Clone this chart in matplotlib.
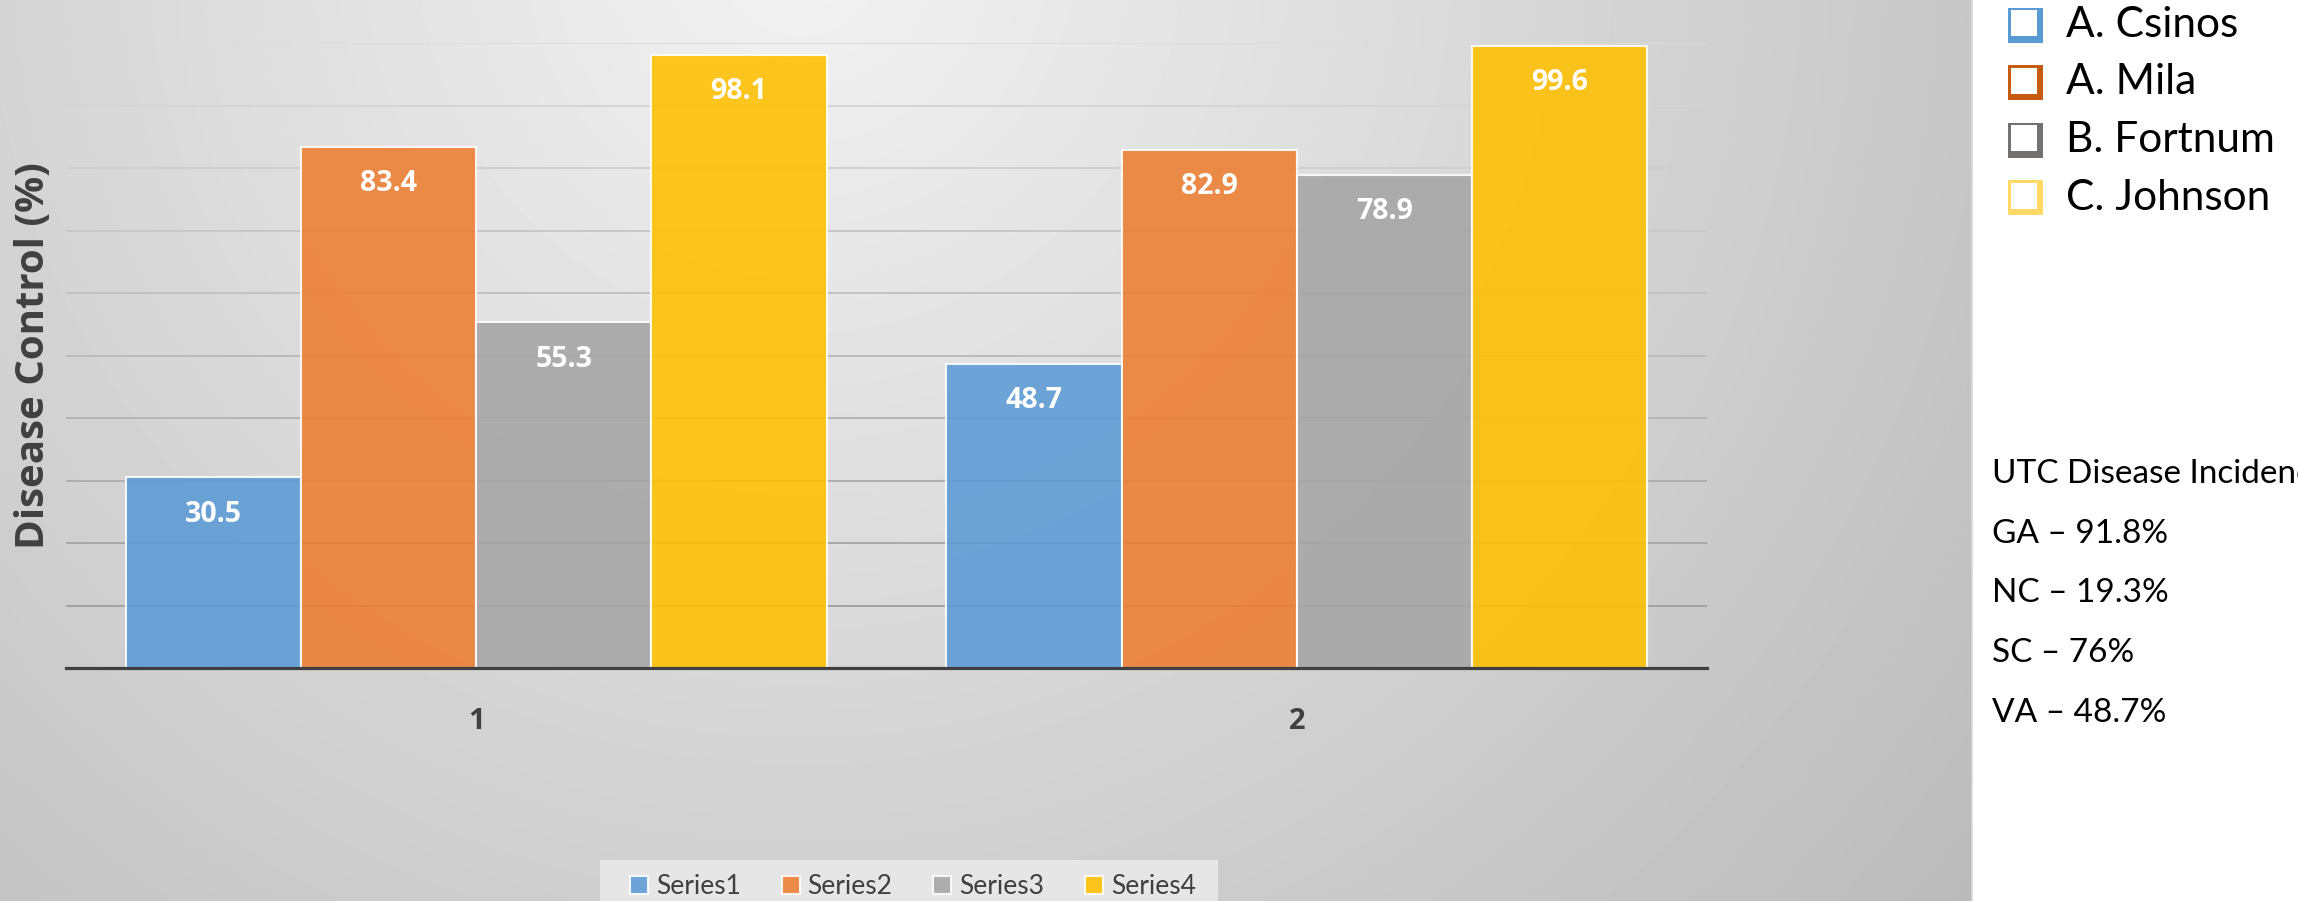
import numpy as np
import matplotlib
matplotlib.use("Agg")
import matplotlib.pyplot as plt
from matplotlib.patches import Rectangle

plt.rcParams['font.family'] = ['Lato', 'DejaVu Sans']
BOLD_FAMILY = ['Open Sans', 'DejaVu Sans']

# ---- data ----
categories = ['1', '2']
series_names = ['Series1', 'Series2', 'Series3', 'Series4']
series1 = [30.5, 48.7]
series2 = [83.4, 82.9]
series3 = [55.3, 78.9]
series4 = [98.1, 99.6]
researchers = ['A. Csinos', 'A. Mila', 'B. Fortnum', 'C. Johnson']
utc_lines = ['UTC Disease Incidence', 'GA \u2013 91.8%', 'NC \u2013 19.3%',
             'SC \u2013 76%', 'VA \u2013 48.7%']

bar_colors = ['#5b9bd5', '#ed7d31', '#a5a5a5', '#ffc000']
key_colors = ['#5b9bd5', '#c55a11', '#767171', '#ffd966']

W, H = 2298, 901
fig = plt.figure(figsize=(W / 100, H / 100), dpi=100)
fig.patch.set_facecolor('white')

# ---- gradient panel behind the chart ----
PW = 1972
bg = fig.add_axes([0, 0, PW / W, 1], zorder=-2)
xx, yy = np.meshgrid(np.arange(PW), np.arange(H))
dist = np.sqrt((xx - 800.0) ** 2 + (yy + 50.0) ** 2)
shade = np.clip(0.95 - 1.45e-4 * dist, 0, 1)
bg.imshow(shade, cmap='gray', vmin=0, vmax=1, aspect='auto',
          extent=(0, PW, H, 0), interpolation='bilinear')
bg.set_axis_off()

# ---- bar chart ----
left, right, top, base = 66, 1707, 43, 668
ax = fig.add_axes([left / W, (H - base) / H, (right - left) / W, (base - top) / H])
ax.set_facecolor('none')

x = np.arange(len(categories))
width = 0.2135
all_series = [series1, series2, series3, series4]
containers = []
for i, (vals, name, col) in enumerate(zip(all_series, series_names, bar_colors)):
    c = ax.bar(x + (i - 1.5) * width, vals, width, color=col, alpha=0.88,
               edgecolor=(1, 1, 1, 0.45), linewidth=1.5, label=name, zorder=3)
    containers.append(c)
    for xi, v in zip(x + (i - 1.5) * width, vals):
        ax.annotate(f'{v:.1f}', (xi, v), xytext=(0, -26.5), textcoords='offset points',
                    ha='center', va='center', color='white', fontsize=20.5,
                    fontweight='bold', family=BOLD_FAMILY, zorder=4)

ax.set_xlim(-0.5, 1.5)
ax.set_ylim(0, 100)
ax.set_yticks(np.arange(0, 101, 10))
ax.set_yticklabels([])
ax.tick_params(axis='y', length=0)
ax.yaxis.grid(True, zorder=1)
for j, gl in enumerate(ax.get_ygridlines()):
    g = 0.86 - 0.025 * (10 - j)
    gl.set_color((g, g, g))
    gl.set_linewidth(1.4)
ax.set_axisbelow(True)

ax.set_xticks(x)
ax.set_xticklabels(categories, fontsize=21, fontweight='bold', color='#404040',
                   family=BOLD_FAMILY)
ax.tick_params(axis='x', length=0, pad=28)

for s in ['left', 'right', 'top']:
    ax.spines[s].set_visible(False)
ax.spines['bottom'].set_color('#404040')
ax.spines['bottom'].set_linewidth(2.3)
ax.spines['bottom'].set_zorder(5)

ax.set_ylabel('Disease Control (%)', fontsize=29, fontweight='bold', color='#404040',
              family=BOLD_FAMILY)
ax.yaxis.set_label_coords((53 - left) / (right - left), 0.5)

# ---- bottom series legend ----
fig.add_artist(Rectangle((600 / W, 0), (1218 - 600) / W, (H - 860) / H,
                         transform=fig.transFigure, facecolor='#e6e6e6',
                         edgecolor='none', zorder=1))
leg = fig.legend(handles=containers, labels=series_names, loc='center left',
                 bbox_to_anchor=(630 / W, 1 - 887 / H), ncol=4, frameon=False,
                 fontsize=19, handlelength=0.68, handleheight=0.68,
                 handletextpad=0.3, columnspacing=1.55, borderpad=0,
                 borderaxespad=0)
for t in leg.get_texts():
    t.set_color('#404040')
leg.set_zorder(2)

# ---- right-hand notes (pixel coordinates) ----
ov = fig.add_axes([0, 0, 1, 1], zorder=3)
ov.set_xlim(0, W)
ov.set_ylim(H, 0)
ov.set_axis_off()
ov.patch.set_alpha(0)

ov.plot([PW, PW], [0, H], color='#d9d9d9', linewidth=1.2)

for i, (name, col) in enumerate(zip(researchers, key_colors)):
    yc = 25 + 57.5 * i
    ov.add_patch(Rectangle((2008, yc - 17.5), 35, 35, facecolor=col, edgecolor='none'))
    ov.add_patch(Rectangle((2011, yc - 15), 26, 26, facecolor='white', edgecolor='none'))
    ov.text(2066, yc, name, fontsize=30.5, va='center', ha='left', color='black')

for i, line in enumerate(utc_lines):
    ov.text(1992, 474 + 59.7 * i, line, fontsize=24, va='center', ha='left', color='black')

fig.savefig('out.png', dpi=100)
